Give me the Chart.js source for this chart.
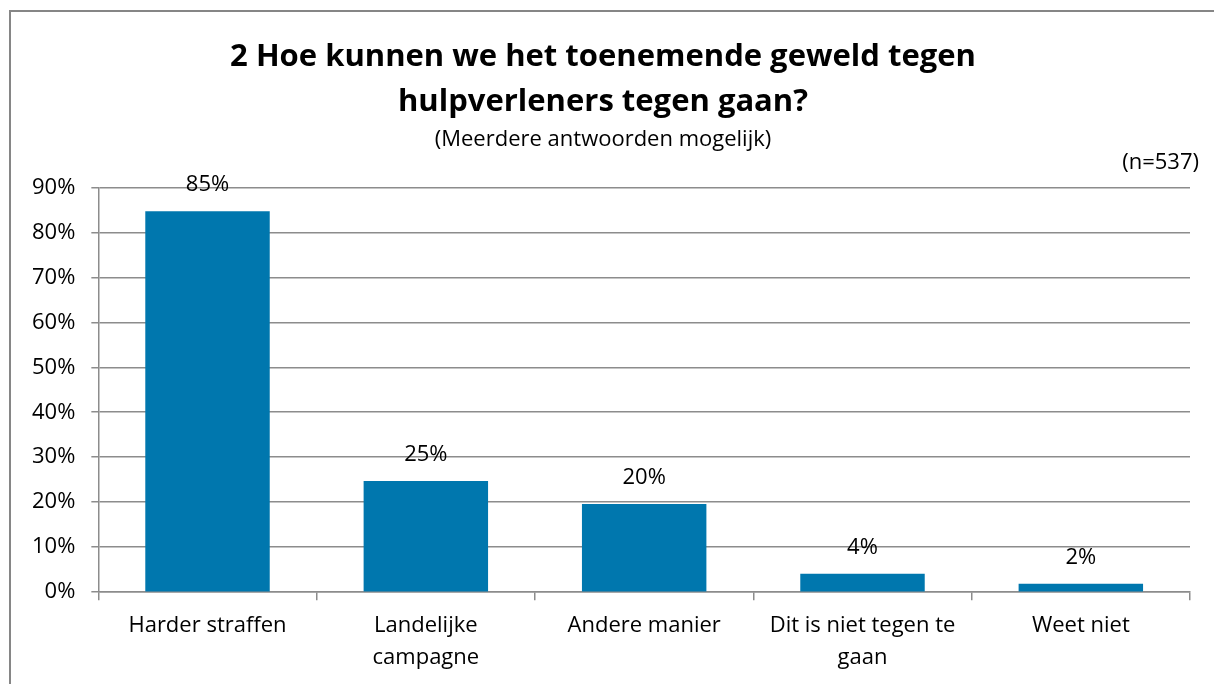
<!DOCTYPE html>
<html>
<head>
<meta charset="utf-8">
<script src="https://cdn.jsdelivr.net/npm/chart.js@4"></script>
<style>
  html, body { margin: 0; padding: 0; background: #fff; }
  #wrap { position: relative; width: 1214px; height: 684px; }
  #frame { position: absolute; left: 9px; top: 10px; width: 1214px; height: 700px;
           border-left: 2px solid #868686; border-top: 2px solid #868686; pointer-events: none; }
</style>
</head>
<body>
<div id="wrap">
  <canvas id="barchart" width="1214" height="684"></canvas>
  <div id="frame"></div>
</div>
<script>
const categories = ['Harder straffen', ['Landelijke', 'campagne'], 'Andere manier', ['Dit is niet tegen te', 'gaan'], 'Weet niet'];
const percentages = [84.7, 24.7, 19.6, 4.1, 1.9];
const yTicks = [0, 10, 20, 30, 40, 50, 60, 70, 80, 90];
const sampleNote = '(n=537)';

const FONT = '"Open Sans", Lato, sans-serif';
const GRID = '#8c8c8c';

const valueLabels = {
    id: 'valueLabels',
    afterDatasetsDraw(chart) {
        const ctx = chart.ctx;
        const meta = chart.getDatasetMeta(0);
        ctx.save();
        ctx.font = '22px ' + FONT;
        ctx.fillStyle = '#000';
        ctx.textAlign = 'center';
        ctx.textBaseline = 'middle';
        meta.data.forEach(function(bar, i) {
            ctx.fillText(Math.round(percentages[i]) + '%', bar.x, bar.y - 26);
        });
        // sample size note, top right
        ctx.textAlign = 'right';
        ctx.fillText(sampleNote, 1199, 163);
        ctx.restore();
    }
};

document.addEventListener("DOMContentLoaded", function() {
    const ctx = document.getElementById('barchart');

    new Chart(ctx, {
        type: 'bar',
        data: {
            labels: categories,
            datasets: [{
                data: percentages,
                backgroundColor: '#0077ae',
                barPercentage: 0.57,
                categoryPercentage: 1.0
            }]
        },
        options: {
            responsive: false,
            animation: false,
            layout: { padding: { top: 35, left: 16, right: 24, bottom: 0 } },
            plugins: {
                legend: { display: false },
                tooltip: { enabled: false },
                title: {
                    display: true,
                    text: ['2 Hoe kunnen we het toenemende geweld tegen', 'hulpverleners tegen gaan?'],
                    font: { family: FONT, size: 31, weight: 'bold', lineHeight: 1.45 },
                    color: '#000',
                    padding: { top: 0, bottom: 0 }
                },
                subtitle: {
                    display: true,
                    text: '(Meerdere antwoorden mogelijk)',
                    font: { family: FONT, size: 22 },
                    color: '#000',
                    padding: { top: 2, bottom: 34 }
                }
            },
            scales: {
                y: {
                    min: 0,
                    max: 90,
                    afterBuildTicks: function(axis) {
                        axis.ticks = yTicks.map(function(v) { return { value: v }; });
                    },
                    ticks: {
                        callback: function(v) { return v + '%'; },
                        font: { family: FONT, size: 22 },
                        color: '#000',
                        padding: 16
                    },
                    grid: { color: GRID, lineWidth: 1.5, tickLength: 7 },
                    border: { color: GRID, width: 1.5 }
                },
                x: {
                    ticks: {
                        font: { family: FONT, size: 22, lineHeight: 1.45 },
                        color: '#000',
                        padding: 10,
                        maxRotation: 0
                    },
                    grid: { offset: true, drawOnChartArea: false, color: GRID, lineWidth: 1.5, tickLength: 8 },
                    border: { color: GRID, width: 1.5 }
                }
            }
        },
        plugins: [valueLabels]
    });
});
</script>
</body>
</html>
